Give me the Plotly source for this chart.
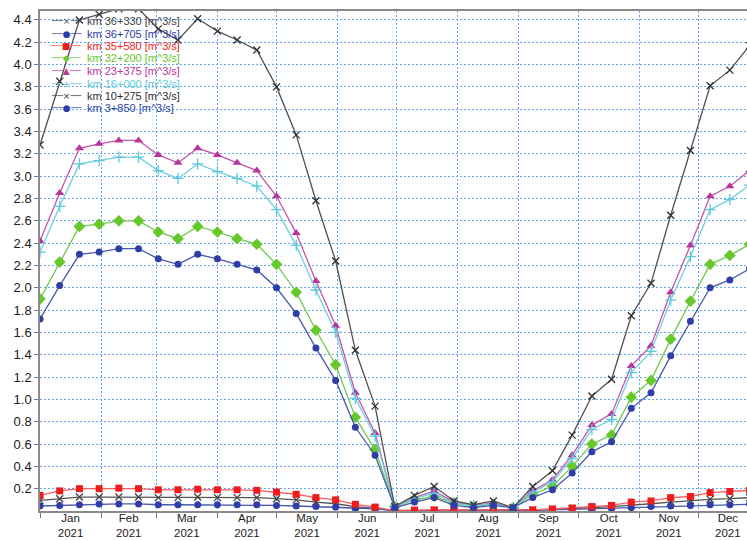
import pandas as pd
import plotly.graph_objects as go

# Sampling dates: every 10 days starting 1 Jan 2021
dates = pd.date_range("2021-01-01", periods=37, freq="10D")

km_36_330 = [0.095, 0.11, 0.125, 0.125, 0.125, 0.125, 0.12, 0.12, 0.125, 0.12, 0.12, 0.12,
             0.11, 0.10, 0.08, 0.065, 0.04, 0.025, 0.005, 0.005, 0.005, 0.005, 0.005, 0.005,
             0.005, 0.01, 0.015, 0.02, 0.03, 0.04, 0.05, 0.065, 0.08, 0.095, 0.105, 0.11, 0.12]
km_36_705 = [0.045, 0.05, 0.056, 0.063, 0.063, 0.063, 0.056, 0.056, 0.056, 0.056, 0.056, 0.056,
             0.05, 0.045, 0.04, 0.035, 0.025, 0.02, 0.003, 0.003, 0.003, 0.003, 0.003, 0.003,
             0.003, 0.005, 0.01, 0.015, 0.02, 0.025, 0.03, 0.04, 0.045, 0.05, 0.055, 0.055, 0.06]
km_35_580 = [0.14, 0.18, 0.20, 0.20, 0.205, 0.20, 0.19, 0.19, 0.195, 0.19, 0.19, 0.185,
             0.17, 0.15, 0.12, 0.10, 0.06, 0.035, 0.003, 0.008, 0.01, 0.008, 0.008, 0.005,
             0.005, 0.01, 0.018, 0.027, 0.04, 0.05, 0.08, 0.09, 0.12, 0.13, 0.165, 0.175, 0.185]
km_32_200 = [1.90, 2.23, 2.55, 2.57, 2.60, 2.60, 2.50, 2.44, 2.55, 2.50, 2.44, 2.39,
             2.21, 1.96, 1.62, 1.31, 0.84, 0.55, 0.04, 0.10, 0.13, 0.07, 0.04, 0.06,
             0.03, 0.15, 0.22, 0.40, 0.60, 0.68, 1.02, 1.17, 1.54, 1.88, 2.21, 2.29, 2.39]
km_23_375 = [2.42, 2.85, 3.25, 3.29, 3.32, 3.32, 3.19, 3.12, 3.25, 3.19, 3.12, 3.05,
             2.82, 2.49, 2.06, 1.66, 1.06, 0.70, 0.04, 0.12, 0.18, 0.08, 0.05, 0.07,
             0.03, 0.18, 0.28, 0.50, 0.77, 0.87, 1.30, 1.48, 1.96, 2.38, 2.82, 2.91, 3.05]
km_16_000 = [2.32, 2.73, 3.11, 3.14, 3.17, 3.17, 3.05, 2.98, 3.11, 3.04, 2.98, 2.91,
             2.70, 2.38, 1.98, 1.60, 1.01, 0.67, 0.04, 0.11, 0.16, 0.07, 0.05, 0.06,
             0.03, 0.17, 0.26, 0.47, 0.73, 0.82, 1.24, 1.43, 1.89, 2.28, 2.70, 2.79, 2.92]
km_10_275 = [3.28, 3.85, 4.40, 4.45, 4.50, 4.50, 4.32, 4.22, 4.41, 4.30, 4.22, 4.13,
             3.80, 3.37, 2.78, 2.24, 1.44, 0.94, 0.04, 0.14, 0.22, 0.09, 0.056, 0.09,
             0.03, 0.22, 0.36, 0.68, 1.03, 1.18, 1.75, 2.04, 2.65, 3.23, 3.81, 3.95, 4.17]
km_3_850 = [1.72, 2.02, 2.30, 2.32, 2.35, 2.35, 2.26, 2.21, 2.30, 2.26, 2.21, 2.16,
            2.00, 1.77, 1.46, 1.17, 0.75, 0.50, 0.03, 0.08, 0.12, 0.05, 0.03, 0.05,
            0.03, 0.12, 0.19, 0.34, 0.53, 0.62, 0.92, 1.06, 1.39, 1.70, 2.00, 2.07, 2.17]

y_ticks = [0.2, 0.4, 0.6, 0.8, 1.0, 1.2, 1.4, 1.6, 1.8, 2.0, 2.2,
           2.4, 2.6, 2.8, 3.0, 3.2, 3.4, 3.6, 3.8, 4.0, 4.2, 4.4]

names = ["km 36+330 [m^3/s]", "km 36+705 [m^3/s]", "km 35+580 [m^3/s]", "km 32+200 [m^3/s]",
         "km 23+375 [m^3/s]", "km 16+000 [m^3/s]", "km 10+275 [m^3/s]", "km 3+850 [m^3/s]"]
values = [km_36_330, km_36_705, km_35_580, km_32_200, km_23_375, km_16_000, km_10_275, km_3_850]

# styles: (line colour, marker colour, plotly symbol, size, legend glyph)
styles = [
    ("#555555", "#444444", "x-thin", 7, "×"),
    ("#4858b0", "#2e3ea6", "circle", 7, "●"),
    ("#ff5a5a", "#ee1c1c", "square", 7, "■"),
    ("#70c850", "#66c82a", "diamond", 9, "◆"),
    ("#c456aa", "#b8369c", "triangle-up", 8, "▲"),
    ("#6fcfe0", "#5cc8dc", "cross-thin", 8, "+"),
    ("#505050", "#303030", "x-thin", 7, "×"),
    ("#4858b0", "#2e3ea6", "circle", 7, "●"),
]

fig = go.Figure()
for name, vals, (lcolor, mcolor, symbol, size, _g) in zip(names, values, styles):
    thin = symbol.endswith("thin")
    fig.add_trace(go.Scatter(
        x=dates, y=vals, mode="lines+markers", name=name, showlegend=False,
        line=dict(color=lcolor, width=1.3),
        marker=dict(symbol=symbol, size=size, color=mcolor,
                    line=dict(color=mcolor, width=1.3 if thin else 0)),
    ))

# ---- layout geometry (pixels) ----
W, H = 747, 541
ML, MR, MT, MB = 40, 0, 11, 30
PW, PH = W - ML - MR, H - MT - MB

def px_x(p):
    return (p - ML) / PW

def px_y(p):
    return (H - MB - p) / PH

# compact legend in the top-left corner, built from text
annotations = []
for i, (name, (lcolor, mcolor, symbol, size, glyph)) in enumerate(zip(names, styles)):
    row = 21.0 + 12.5 * i
    annotations.append(dict(
        xref="paper", yref="paper", x=px_x(66), y=px_y(row),
        xanchor="center", yanchor="middle", showarrow=False,
        text=(f"<span style='color:{lcolor}'>──</span>"
              f"<span style='color:{mcolor}'>{glyph}</span>"
              f"<span style='color:{lcolor}'>──</span>"),
        font=dict(family="DejaVu Sans", size=9, color=mcolor),
    ))
    annotations.append(dict(
        xref="paper", yref="paper", x=px_x(85), y=px_y(row),
        xanchor="left", yanchor="middle", showarrow=False,
        text=name, font=dict(family="Arial, Liberation Sans, sans-serif", size=11, color=mcolor),
    ))

grid_color = "#62a8ec"
fig.update_layout(
    width=W, height=H,
    margin=dict(l=ML, r=MR, t=MT, b=MB),
    paper_bgcolor="white", plot_bgcolor="white",
    font=dict(family="Arial, Liberation Sans, sans-serif", size=12, color="#222222"),
    showlegend=False,
    annotations=annotations,
    xaxis=dict(
        type="date", range=["2021-01-01", "2021-12-25 17:00"],
        dtick="M1", tick0="2021-01-01", ticklabelmode="period",
        tickformat="%b<br>%Y", automargin=False, ticklabelstandoff=-10,
        showgrid=True, gridcolor=grid_color, griddash="2px,2px", gridwidth=1.4,
        ticks="outside", ticklen=5, tickcolor="#777777",
        showline=True, linecolor="#8a8a8a", linewidth=1.5, mirror=True,
        tickfont=dict(size=11.5, color="#1a1a1a"),
        zeroline=False,
    ),
    yaxis=dict(
        range=[0, 4.48], tickvals=y_ticks, ticktext=[f"{v:.1f}" for v in y_ticks],
        automargin=False,
        showgrid=True, gridcolor=grid_color, griddash="2px,2px", gridwidth=1.4,
        ticks="outside", ticklen=4, tickcolor="#777777",
        showline=True, linecolor="#8a8a8a", linewidth=1.5,
        tickfont=dict(size=13, color="#1a1a1a"),
        zeroline=False,
    ),
)

fig.write_html("out.html")
